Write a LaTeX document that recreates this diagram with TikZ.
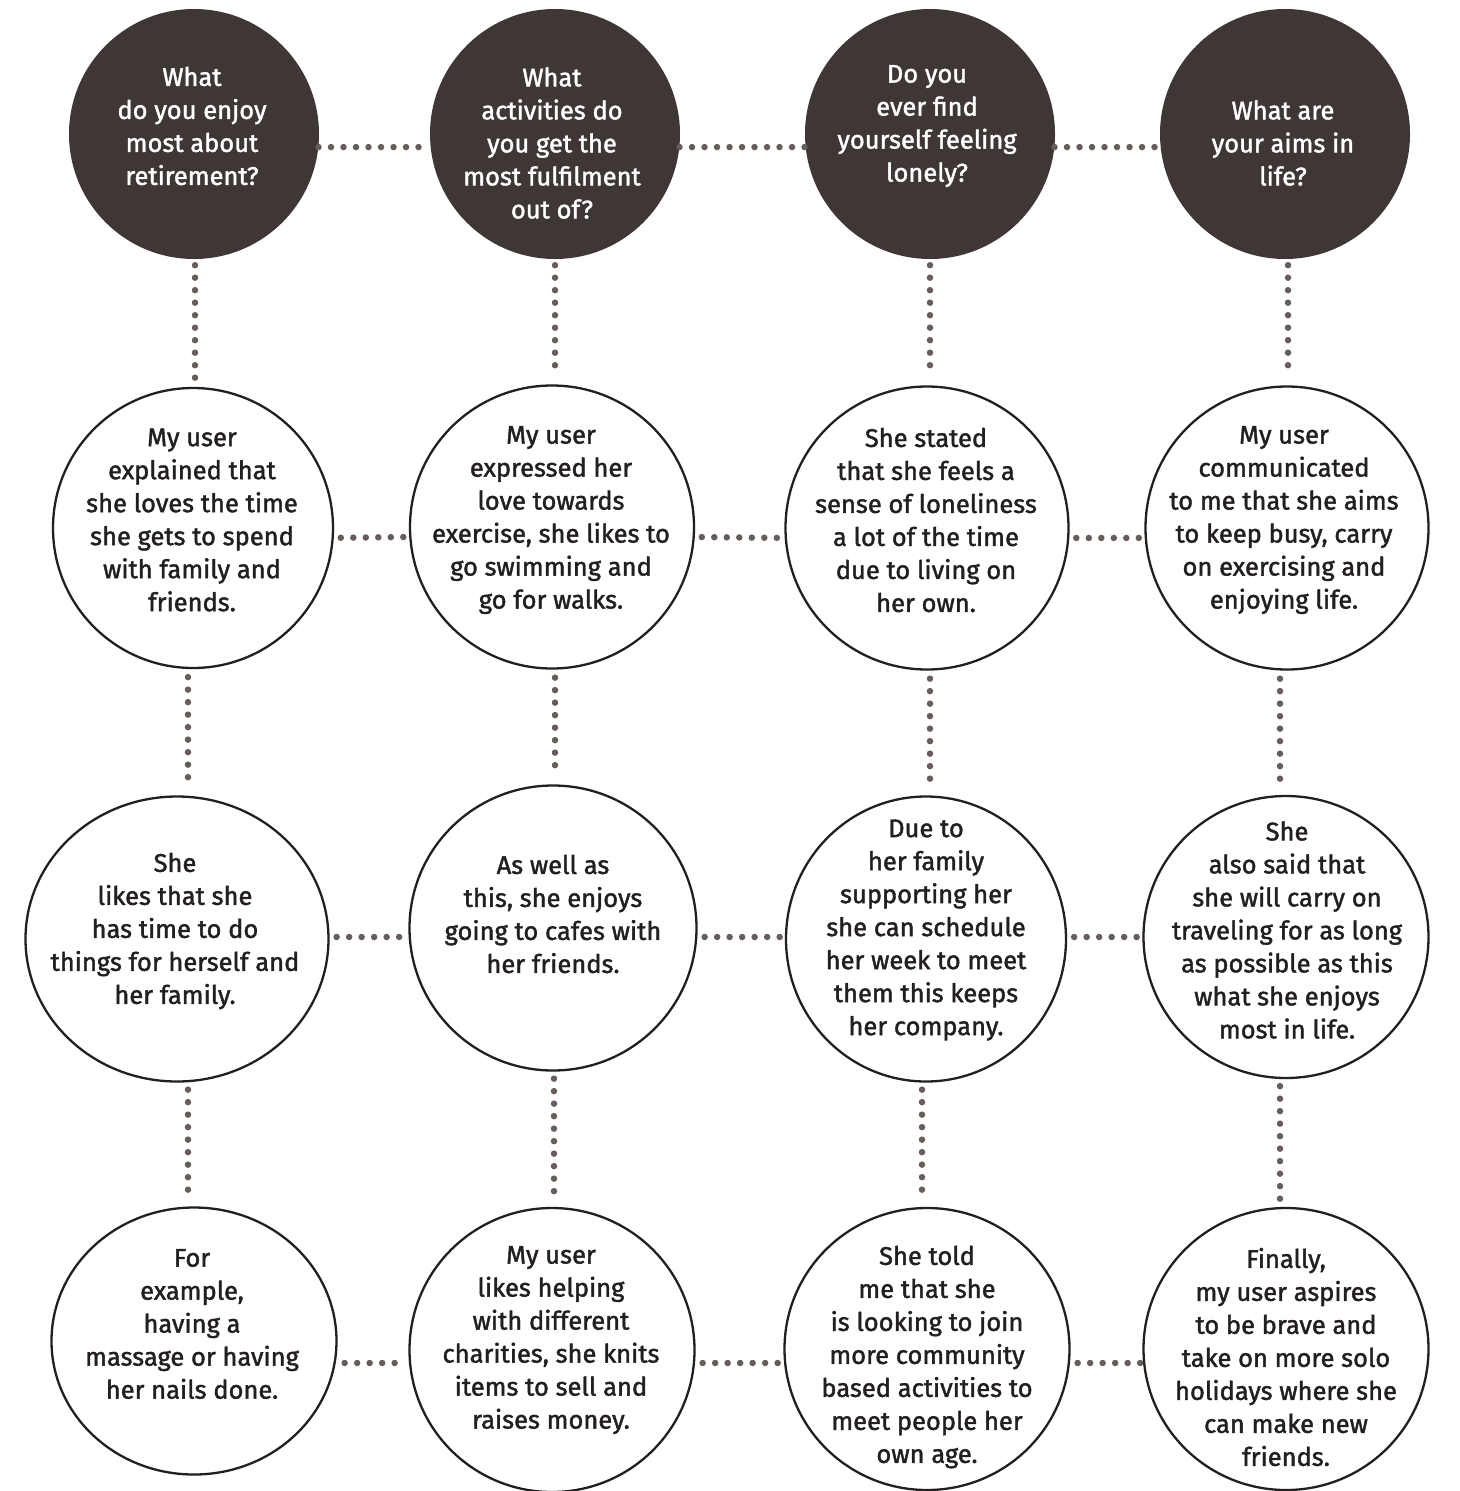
\documentclass[tikz,border=0pt]{standalone}
\usepackage{fontspec}
\setmainfont{Fira Sans}[FakeBold=1.6]
\usetikzlibrary{shapes.geometric,calc}
\definecolor{darkfill}{HTML}{3E3735}
\definecolor{dotc}{HTML}{675D5A}
\definecolor{txt}{HTML}{231F20}
\begin{document}
\begin{tikzpicture}[x=1pt,y=-1pt,
  qbub/.style={ellipse,fill=darkfill,draw=none,inner sep=0pt},
  abub/.style={ellipse,draw=txt,line width=2.3pt,fill=white,inner sep=0pt},
  qtext/.style={align=center,text=white,font=\fontsize{25.5}{33}\selectfont,inner sep=0pt},
  atext/.style={align=center,text=txt,font=\fontsize{25.5}{33}\selectfont,inner sep=0pt},
  dots/.style={draw=dotc,line width=6.5pt,line cap=round,dash pattern=on 0pt off 12.5pt}
]
\useasboundingbox (0,0) rectangle (1459,1491);
\fill[white] (0,0) rectangle (1459,1491);

% row 1: questions
\node[qbub,minimum width=250,minimum height=250] (q1) at (194,134) {};
\node[qbub,minimum width=250,minimum height=250] (q2) at (555,134) {};
\node[qbub,minimum width=250,minimum height=250] (q3) at (930,134) {};
\node[qbub,minimum width=250,minimum height=250] (q4) at (1285,134) {};
\node[qtext] (tq1) at (192,126) {What\\do you enjoy\\most about\\retirement?};
\node[qtext] (tq2) at (552,143) {What\\activities do\\you get the\\most fulfilment\\out of?};
\node[qtext] (tq3) at (927,126) {Do you\\ever find\\yourself feeling\\lonely?};
\node[qtext] (tq4) at (1283,143) {What are\\your aims in\\life?};

% row 2
\node[abub,minimum width=280,minimum height=280] (a1) at (193,528) {};
\node[abub,minimum width=284,minimum height=283] (a2) at (552,527) {};
\node[abub,minimum width=283,minimum height=283] (a3) at (927,528) {};
\node[abub,minimum width=283,minimum height=283] (a4) at (1287,528) {};
\node[atext] (ta1) at (192,520) {My user\\explained that\\she loves the time\\she gets to spend\\with family and\\friends.};
\node[atext] (ta2) at (551,520) {My user\\expressed her\\love towards\\exercise, she likes to\\go swimming and\\go for walks.};
\node[atext] (ta3) at (926,520) {She stated\\that she feels a\\sense of loneliness\\a lot of the time\\due to living on\\her own.};
\node[atext] (ta4) at (1284,520) {My user\\communicated\\to me that she aims\\to keep busy, carry\\on exercising and\\enjoying life.};

% row 3
\node[abub,minimum width=303,minimum height=285] (b1) at (177,939) {};
\node[abub,minimum width=287,minimum height=285] (b2) at (553,928) {};
\node[abub,minimum width=280,minimum height=285] (b3) at (926,939) {};
\node[abub,minimum width=285,minimum height=282] (b4) at (1286,937) {};
\node[atext] (tb1) at (175,931) {She\\likes that she\\has time to do\\things for herself and\\her family.};
\node[atext] (tb2) at (553,914) {As well as\\this, she enjoys\\going to cafes with\\her friends.};
\node[atext] (tb3) at (926,930) {Due to\\her family\\supporting her\\she can schedule\\her week to meet\\them this keeps\\her company.};
\node[atext] (tb4) at (1287,930) {She\\also said that\\she will carry on\\traveling for as long\\as possible as this\\what she enjoys\\most in life.};

% row 4
\node[abub,minimum width=285,minimum height=267] (c1) at (194,1341) {};
\node[abub,minimum width=285,minimum height=284] (c2) at (552,1350) {};
\node[abub,minimum width=285,minimum height=282] (c3) at (927,1349) {};
\node[abub,minimum width=285,minimum height=282] (c4) at (1286,1349) {};
\node[atext] (tc1) at (192,1324) {For\\example,\\having a\\massage or having\\her nails done.};
\node[atext] (tc2) at (551,1340) {My user\\likes helping\\with different\\charities, she knits\\items to sell and\\raises money.};
\node[atext] (tc3) at (927,1357) {She told\\me that she\\is looking to join\\more community\\based activities to\\meet people her\\own age.};
\node[atext] (tc4) at (1286,1357) {Finally,\\my user aspires\\to be brave and\\take on more solo\\holidays where she\\can make new\\friends.};

% horizontal connectors
\draw[dots] (q1.-6) -- (q2.186);
\draw[dots] (q2.-6) -- (q3.186);
\draw[dots] (q3.-6) -- (q4.186);
\foreach \l/\r in {a1/a2,a2/a3,a3/a4}{
  \draw[dots,shorten <=7pt,shorten >=2pt] (\l.-4) -- (\r.184);
}
\foreach \l/\r in {b1/b2,b2/b3,b3/b4}{
  \draw[dots,shorten <=7pt,shorten >=2pt] (\l.east |- 0,937) -- (\r.west |- 0,937);
}
\foreach \l/\r in {c1/c2,c2/c3,c3/c4}{
  \draw[dots,shorten <=7pt,shorten >=2pt] (\l.east |- 0,1363) -- (\r.west |- 0,1363);
}

% vertical connectors
\draw[dots,shorten <=6pt,shorten >=9pt] (q1.south -| 195,0) -- (a1.north -| 195,0);
\draw[dots,shorten <=6pt,shorten >=9pt] (q2.south) -- (a2.north -| q2.south);
\draw[dots,shorten <=6pt,shorten >=9pt] (q3.south) -- (a3.north -| q3.south);
\draw[dots,shorten <=6pt,shorten >=9pt] (q4.south -| 1288,0) -- (a4.north -| 1288,0);

\draw[dots,shorten <=8pt,shorten >=7pt] (a1.south -| 188,0) -- (b1.north -| 188,0);
\draw[dots,shorten <=8pt,shorten >=7pt] (a2.south -| 555,0) -- (b2.north -| 555,0);
\draw[dots,shorten <=8pt,shorten >=7pt] (a3.south -| 930,0) -- (b3.north -| 930,0);
\draw[dots,shorten <=8pt,shorten >=7pt] (a4.south -| 1280,0) -- (b4.north -| 1280,0);

\draw[dots,shorten <=7pt,shorten >=7pt] (b1.south -| 188,0) -- (c1.north -| 188,0);
\draw[dots,shorten <=7pt,shorten >=7pt] (b2.south -| 554,0) -- (c2.north -| 554,0);
\draw[dots,shorten <=7pt,shorten >=7pt] (b3.south -| 922,0) -- (c3.north -| 922,0);
\draw[dots,shorten <=7pt,shorten >=7pt] (b4.south -| 1280,0) -- (c4.north -| 1280,0);
\end{tikzpicture}
\end{document}
